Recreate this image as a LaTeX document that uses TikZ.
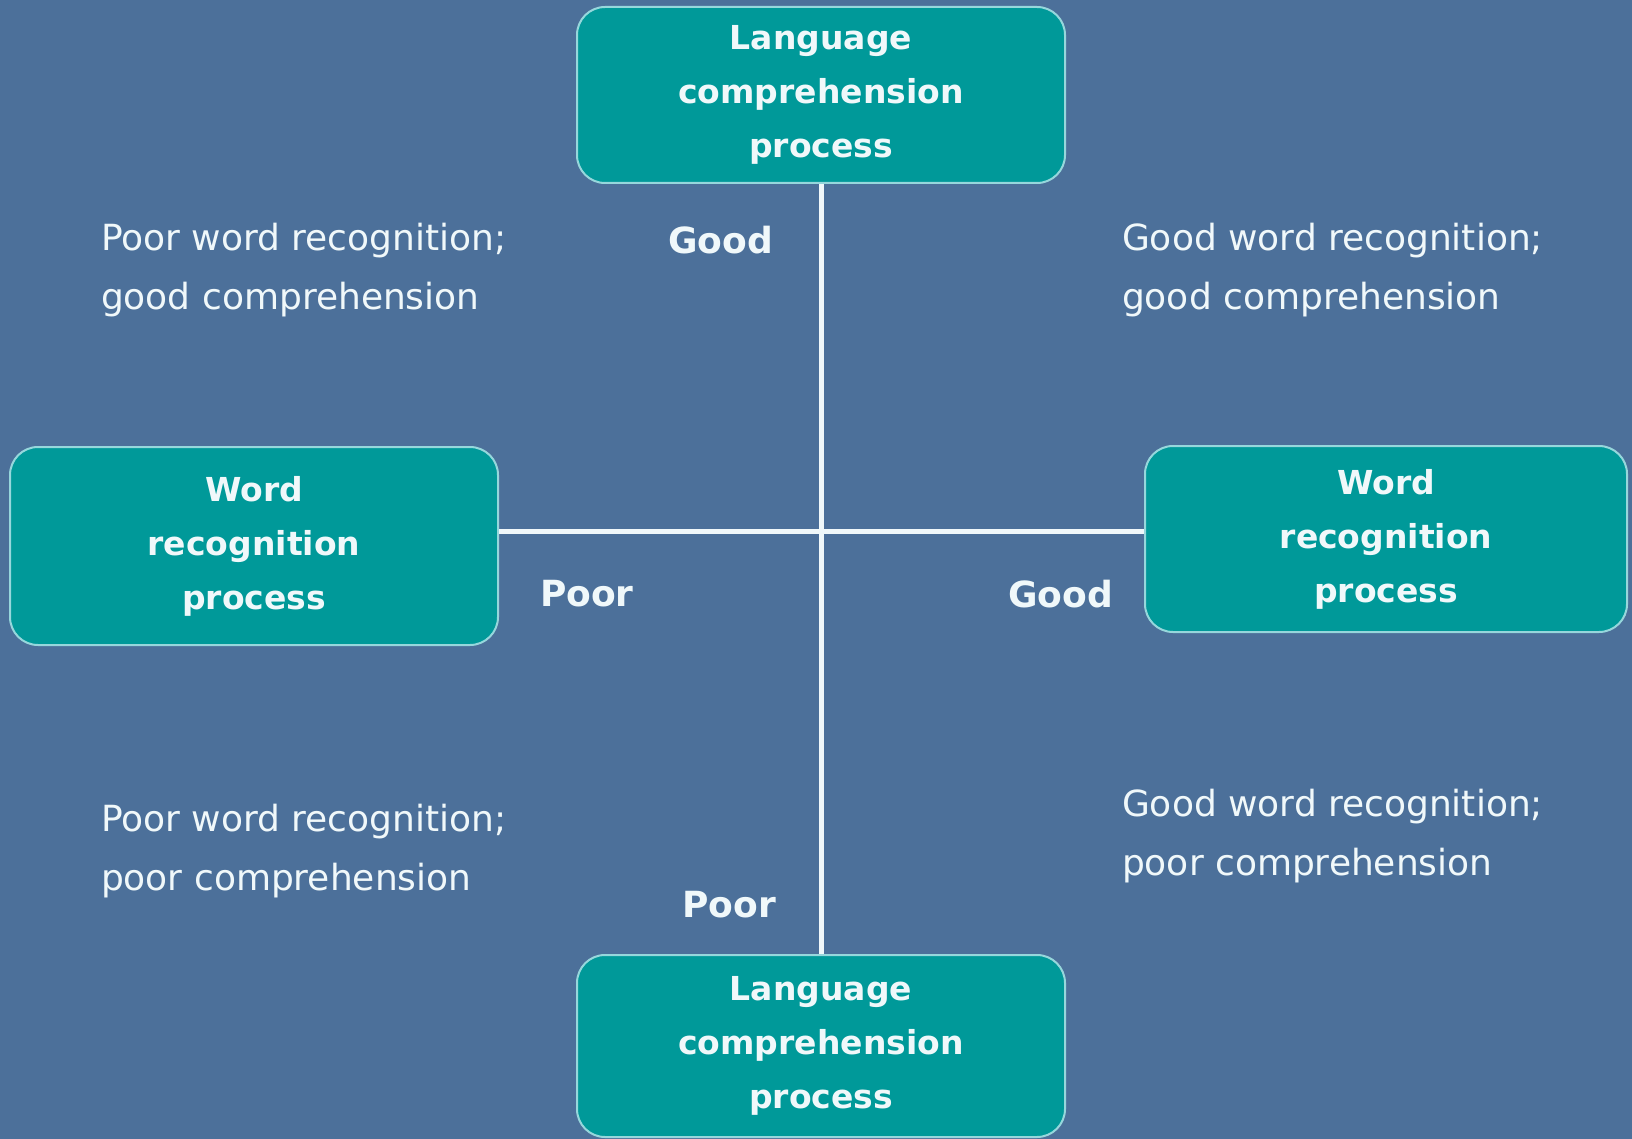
\documentclass[tikz,border=0pt]{standalone}
\usepackage{fontspec}
\setmainfont{DejaVu Sans}
\usetikzlibrary{positioning}

\definecolor{slatebg}{RGB}{76,112,154}
\definecolor{tealbox}{RGB}{0,153,153}
\definecolor{tealedge}{RGB}{150,215,220}
\definecolor{paletext}{RGB}{240,248,250}

\tikzset{
  procbox/.style={draw=tealedge, line width=1pt, fill=tealbox, rounded corners=14pt,
    align=center, text=paletext, inner sep=0pt,
    font=\bfseries\fontsize{16.5}{27}\selectfont},
  axislbl/.style={text=paletext, font=\bfseries\fontsize{18}{20}\selectfont},
  quadtxt/.style={text=paletext, align=left, anchor=west,
    font=\fontsize{18}{29.5}\selectfont}
}

\begin{document}
\begin{tikzpicture}[x=0.5pt, y=-0.5pt]
    % Background
    \fill[slatebg] (0,0) rectangle (1632,1139);
    \useasboundingbox (0,0) rectangle (1632,1139);

    % Process boxes
    \node[procbox, minimum width=244pt, minimum height=88pt] (langtop) at (821,95) {Language\\comprehension\\process};
    \node[procbox, minimum width=244pt, minimum height=91pt] (langbot) at (821,1046) {Language\\comprehension\\process};
    \node[procbox, minimum width=244pt, minimum height=99pt] (wordleft) at (254,546) {Word\\recognition\\process};
    \node[procbox, minimum width=241pt, minimum height=93pt] (wordright) at (1386,539) {Word\\recognition\\process};

    % Axes
    \coordinate (cross) at (821,531);
    \draw[paletext, line width=2.5pt] (langtop.south) -- (langbot.north);
    \draw[paletext, line width=2.5pt] (wordleft.east |- cross) -- (wordright.west |- cross);

    % Axis labels
    \node[axislbl, left] (goodtop) at (780,240) {Good};
    \node[axislbl, right] (poorleft) at (533,594) {Poor};
    \node[axislbl, left] (goodright) at (1120,594) {Good};
    \node[axislbl, left] (poorbot) at (783,905) {Poor};

    % Quadrant texts
    \node[quadtxt] (tl) at (94,270) {Poor word recognition;\\good comprehension};
    \node[quadtxt] (tr) at (1115,270) {Good word recognition;\\good comprehension};
    \node[quadtxt] (bl) at (94,851) {Poor word recognition;\\poor comprehension};
    \node[quadtxt] (br) at (1115,836) {Good word recognition;\\poor comprehension};
\end{tikzpicture}
\end{document}
